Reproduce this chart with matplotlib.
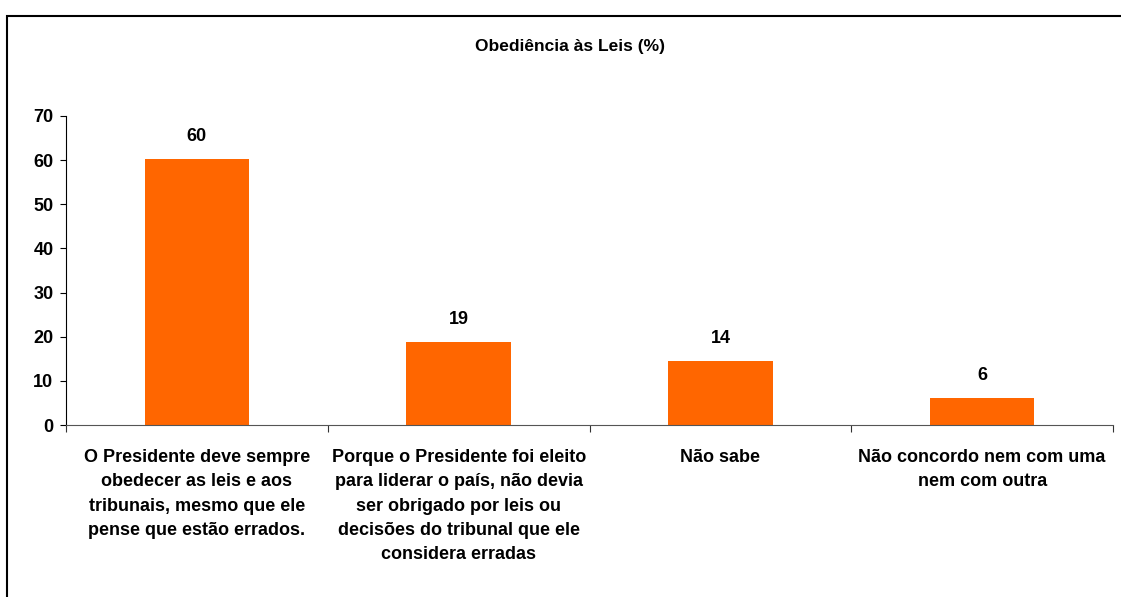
import matplotlib.pyplot as plt
from matplotlib.patches import Rectangle

categories = [
    "O Presidente deve sempre\nobedecer as leis e aos\ntribunais, mesmo que ele\npense que estão errados.",
    "Porque o Presidente foi eleito\npara liderar o país, não devia\nser obrigado por leis ou\ndecisões do tribunal que ele\nconsidera erradas",
    "Não sabe",
    "Não concordo nem com uma\nnem com outra",
]
values = [60.3, 18.9, 14.4, 6.2]
yticks = [0, 10, 20, 30, 40, 50, 60, 70]

plt.rcParams['font.family'] = ['Liberation Sans', 'DejaVu Sans']
plt.rcParams['font.weight'] = 'bold'

fig = plt.figure(figsize=(11.21, 5.97), dpi=100)
ax = fig.add_axes([66/1121, 1 - 425/597, (1113-66)/1121, (425-116)/597])

x = list(range(len(values)))
bars = ax.bar(x, values, width=0.4, color='#FF6600')
for xi, v in zip(x, values):
    ax.text(xi, v + 5.1, f"{v:.0f}", ha='center', va='center', fontsize=13, fontweight='bold')

ax.set_xlim(-0.5, len(values) - 0.5)
ax.set_ylim(0, 70)
ax.set_yticks(yticks)
ax.set_yticklabels([str(t) for t in yticks], fontsize=13, fontweight='bold')
ax.set_xticks([i - 0.5 for i in range(len(values) + 1)])
ax.set_xticklabels([])
ax.tick_params(axis='x', length=5, color='#333333')
ax.tick_params(axis='y', length=4, pad=5)
for xi, lab in zip(x, categories):
    ax.text(xi, -5.5, lab, ha='center', va='top', fontsize=13, fontweight='bold',
            linespacing=1.55)

ax.spines['top'].set_visible(False)
ax.spines['right'].set_visible(False)
ax.spines['bottom'].set_color('#555555')

fig.text(570/1121, 1 - 46/597, "Obediência às Leis (%)", ha='center', va='center',
         fontsize=12.5, fontweight='bold')

fig.patches.append(Rectangle((7/1121, -0.1), 1.2, 1 - 16/597 + 0.1, transform=fig.transFigure,
                             fill=False, edgecolor='black', linewidth=1.5))

fig.savefig('out.png', dpi=100)
